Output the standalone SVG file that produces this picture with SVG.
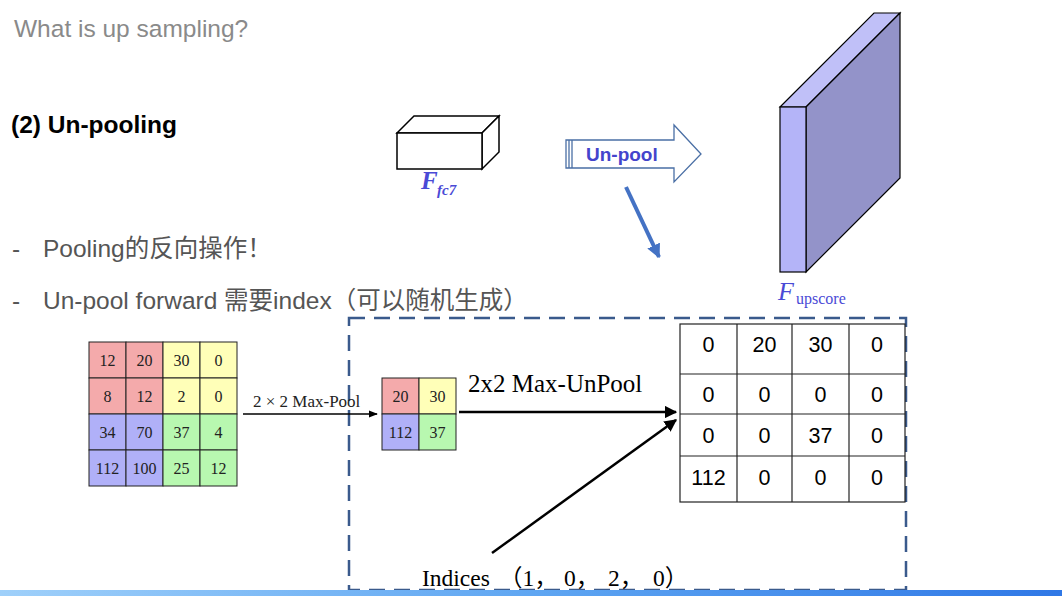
<svg xmlns="http://www.w3.org/2000/svg" width="1062" height="596" viewBox="0 0 1062 596">
<defs>
<linearGradient id="bar" x1="0" y1="0" x2="1" y2="0">
<stop offset="0" stop-color="#9fd0fa"/>
<stop offset="0.5" stop-color="#5fa6f2"/>
<stop offset="1" stop-color="#2f78e6"/>
</linearGradient>
<marker id="ah" viewBox="0 0 10 10" refX="9" refY="5" markerWidth="5" markerHeight="5" orient="auto" markerUnits="strokeWidth">
<path d="M0,0 L10,5 L0,10 z" fill="#000"/>
</marker>
<marker id="ahs" viewBox="0 0 10 10" refX="9" refY="5" markerWidth="7" markerHeight="7" orient="auto" markerUnits="strokeWidth">
<path d="M0,1 L10,5 L0,9 z" fill="#000"/>
</marker>
<marker id="ahb" viewBox="0 0 10 10" refX="9" refY="5" markerWidth="3.5" markerHeight="3.5" orient="auto" markerUnits="strokeWidth">
<path d="M0,0 L10,5 L0,10 z" fill="#4472c4"/>
</marker>
</defs>
<style>
.sans{font-family:"Liberation Sans",Arial,"Noto Sans CJK SC",sans-serif}
.serif{font-family:"Liberation Serif","DejaVu Serif","Noto Sans CJK SC",serif}
.gtxt{fill:#555;font-size:24.5px}
.cell{stroke:#222;stroke-width:1}
.r{fill:#f4aaab}.y{fill:#ffffb8}.b{fill:#b0b0f8}.g{fill:#b8f8b0}
.ct{font-size:16px;text-anchor:middle;fill:#222}
.rt{font-size:21.5px;text-anchor:middle;fill:#000}
.blue{fill:#4a4ad6}
</style>
<rect width="1062" height="596" fill="#fff"/>
<g id="texts">
<text class="sans" x="14" y="37" font-size="24.5" fill="#8a8a8a">What is up sampling?</text>
<text class="sans" x="11" y="133" font-size="24.5" font-weight="bold" fill="#000">(2) Un-pooling</text>
<text class="sans gtxt" x="12" y="257">-</text>
<text class="sans gtxt" x="43" y="257">Pooling的反向操作！</text>
<text class="sans gtxt" x="12" y="309">-</text>
<text class="sans gtxt" x="43" y="309">Un-pool forward 需要index（可以随机生成）</text>
</g>
<g id="ffc7">
<path d="M397,133 L414,116 L499,116 L482,133 Z" fill="#fff" stroke="#000" stroke-width="1.5"/>
<path d="M482,133 L499,116 L499,152 L482,169 Z" fill="#fff" stroke="#000" stroke-width="1.5"/>
<rect x="397" y="133" width="85" height="36" fill="#fff" stroke="#000" stroke-width="1.5"/>
<text class="serif blue" x="421" y="189" font-size="25" font-style="italic" font-weight="bold">F</text>
<text class="serif blue" x="437" y="195" font-size="15" font-style="italic" font-weight="bold">fc7</text>
</g>
<g id="unpool">
<path d="M566,140 L674,140 L674,125 L701,154 L674,182 L674,168 L566,168 Z" fill="#fff" stroke="#4a6fa5" stroke-width="1.3"/>
<line x1="569" y1="140" x2="569" y2="168" stroke="#4a6fa5" stroke-width="1.3"/>
<line x1="572" y1="140" x2="572" y2="168" stroke="#4a6fa5" stroke-width="1.3"/>
<text class="sans" x="586" y="161" font-size="19" font-weight="bold" fill="#4444cc">Un-pool</text>
</g>
<g id="fupscore">
<path d="M780,107 L874,13 L900,13 L806,107 Z" fill="#c0c0f8" stroke="#000" stroke-width="1.2"/>
<path d="M806,107 L900,13 L900,178 L806,272 Z" fill="#9393c9" stroke="#000" stroke-width="1.2"/>
<rect x="780" y="107" width="26" height="165" fill="#b4b4f8" stroke="#000" stroke-width="1.2"/>
<text class="serif blue" x="778" y="300" font-size="26" font-style="italic">F</text>
<text class="serif blue" x="796" y="304" font-size="16">upscore</text>
</g>
<g id="dashbox">
<rect x="349" y="318" width="557" height="272" fill="none" stroke="#3a5a8c" stroke-width="2.5" stroke-dasharray="16,9"/>
</g>
<g id="grid4">
<rect class="cell r" x="89" y="342" width="37" height="36"/>
<rect class="cell r" x="126" y="342" width="37" height="36"/>
<rect class="cell y" x="163" y="342" width="37" height="36"/>
<rect class="cell y" x="200" y="342" width="37" height="36"/>
<rect class="cell r" x="89" y="378" width="37" height="36"/>
<rect class="cell r" x="126" y="378" width="37" height="36"/>
<rect class="cell y" x="163" y="378" width="37" height="36"/>
<rect class="cell y" x="200" y="378" width="37" height="36"/>
<rect class="cell b" x="89" y="414" width="37" height="36"/>
<rect class="cell b" x="126" y="414" width="37" height="36"/>
<rect class="cell g" x="163" y="414" width="37" height="36"/>
<rect class="cell g" x="200" y="414" width="37" height="36"/>
<rect class="cell b" x="89" y="450" width="37" height="36"/>
<rect class="cell b" x="126" y="450" width="37" height="36"/>
<rect class="cell g" x="163" y="450" width="37" height="36"/>
<rect class="cell g" x="200" y="450" width="37" height="36"/>
<g class="serif ct">
<text x="107.5" y="366">12</text><text x="144.5" y="366">20</text><text x="181.5" y="366">30</text><text x="218.5" y="366">0</text>
<text x="107.5" y="402">8</text><text x="144.5" y="402">12</text><text x="181.5" y="402">2</text><text x="218.5" y="402">0</text>
<text x="107.5" y="438">34</text><text x="144.5" y="438">70</text><text x="181.5" y="438">37</text><text x="218.5" y="438">4</text>
<text x="107.5" y="474">112</text><text x="144.5" y="474">100</text><text x="181.5" y="474">25</text><text x="218.5" y="474">12</text>
</g>
</g>
<g id="grid2">
<rect class="cell r" x="382" y="378" width="37" height="36"/>
<rect class="cell y" x="419" y="378" width="37" height="36"/>
<rect class="cell b" x="382" y="414" width="37" height="36"/>
<rect class="cell g" x="419" y="414" width="37" height="36"/>
<g class="serif ct">
<text x="400.5" y="402">20</text><text x="437.5" y="402">30</text>
<text x="400.5" y="438">112</text><text x="437.5" y="438">37</text>
</g>
</g>
<g id="gridout">
<rect x="680" y="324" width="225" height="178" fill="#fff" stroke="#222" stroke-width="1.2"/>
<g stroke="#222" stroke-width="1.2">
<line x1="737" y1="324" x2="737" y2="502"/>
<line x1="792" y1="324" x2="792" y2="502"/>
<line x1="849" y1="324" x2="849" y2="502"/>
<line x1="680" y1="374" x2="905" y2="374"/>
<line x1="680" y1="414" x2="905" y2="414"/>
<line x1="680" y1="456" x2="905" y2="456"/>
</g>
<g class="sans rt">
<text x="708.5" y="352">0</text><text x="764.5" y="352">20</text><text x="820.5" y="352">30</text><text x="877" y="352">0</text>
<text x="708.5" y="402">0</text><text x="764.5" y="402">0</text><text x="820.5" y="402">0</text><text x="877" y="402">0</text>
<text x="708.5" y="443">0</text><text x="764.5" y="443">0</text><text x="820.5" y="443">37</text><text x="877" y="443">0</text>
<text x="708.5" y="485">112</text><text x="764.5" y="485">0</text><text x="820.5" y="485">0</text><text x="877" y="485">0</text>
</g>
</g>
<g id="connectors">
<line x1="243" y1="414" x2="377" y2="414" stroke="#000" stroke-width="1.3" marker-end="url(#ahs)"/>
<text class="serif" x="253" y="407" font-size="17" fill="#222">2 × 2 Max-Pool</text>
<line x1="459" y1="412" x2="676" y2="412" stroke="#000" stroke-width="2.5" marker-end="url(#ah)"/>
<text class="serif" x="468" y="392" font-size="25" fill="#000">2x2 Max-UnPool</text>
<line x1="492" y1="553" x2="676" y2="420" stroke="#000" stroke-width="2.5" marker-end="url(#ah)"/>
<line x1="626" y1="187" x2="659" y2="257" stroke="#4472c4" stroke-width="4" marker-end="url(#ahb)"/>
</g>
<g id="indices" class="serif" font-size="23.5" fill="#000">
<text x="422" y="586">Indices</text>
<text x="499" y="586">（1，</text>
<text x="564" y="586">0，</text>
<text x="608" y="586">2，</text>
<text x="653" y="586">0）</text>
</g>
<rect x="0" y="590" width="1062" height="6" fill="url(#bar)"/>
</svg>
